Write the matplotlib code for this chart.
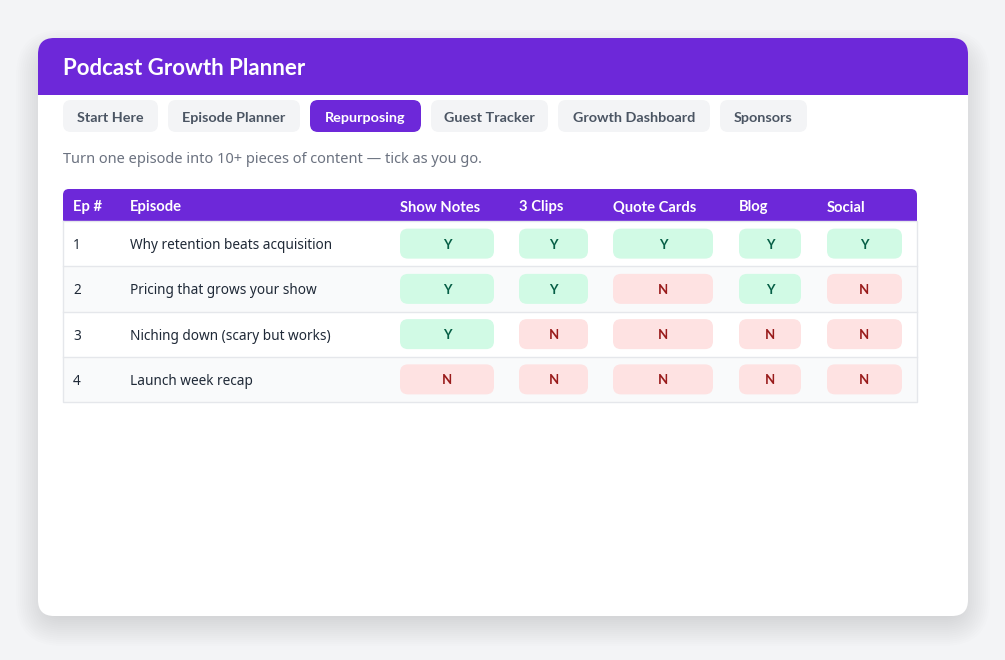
import matplotlib.pyplot as plt
from matplotlib.patches import FancyBboxPatch, Rectangle

# --- data ---
tabs = ["Start Here", "Episode Planner", "Repurposing", "Guest Tracker",
        "Growth Dashboard", "Sponsors"]
active_tab = "Repurposing"
columns = ["Show Notes", "3 Clips", "Quote Cards", "Blog", "Social"]
ep_nums = [1, 2, 3, 4]
episodes = ["Why retention beats acquisition", "Pricing that grows your show",
            "Niching down (scary but works)", "Launch week recap"]
show_notes = ["Y", "Y", "Y", "N"]
clips = ["Y", "Y", "N", "N"]
quote_cards = ["Y", "N", "N", "N"]
blog = ["Y", "Y", "N", "N"]
social = ["Y", "N", "N", "N"]

PURPLE = "#6d28d9"
BOLD = ["Lato", "DejaVu Sans"]
REG = ["Noto Sans", "DejaVu Sans"]
DY = 1.5  # small nudge so text sits on the visual centre

W, H = 1005, 660
fig = plt.figure(figsize=(W / 100, H / 100), dpi=100)
fig.patch.set_facecolor("#f3f4f6")
ax = fig.add_axes([0, 0, 1, 1])
ax.set_xlim(0, W)
ax.set_ylim(H, 0)
ax.axis("off")


def rbox(x, y, w, h, r, fc, z=1, ec="none", lw=0, alpha=1.0):
    p = FancyBboxPatch((x + r, y + r), w - 2 * r, h - 2 * r,
                       boxstyle=f"round,pad={r}", fc=fc, ec=ec, lw=lw,
                       alpha=alpha, zorder=z, mutation_aspect=1)
    ax.add_patch(p)
    return p


# card shadow (soft, mostly below the card)
for i in range(16):
    g = i * 2.0
    rbox(38 - g + 8, 38 - g + 22, 930 + 2 * g - 16, 578 + 2 * g - 22,
         16 + g, "#000000", z=0.5, alpha=0.009)

# card
rbox(38, 38, 930, 578, 16, "white", z=1)
# header band
rbox(38, 38, 930, 57, 16, PURPLE, z=2)
ax.add_patch(Rectangle((38, 70), 930, 25, fc=PURPLE, ec="none", zorder=2))
ax.text(63, 67 + DY, "Podcast Growth Planner", color="white", fontsize=16,
        fontweight="bold", family=BOLD, va="center", ha="left", zorder=3)

# tabs
tab_x = [63, 168, 310, 431, 558, 720]
tab_w = [95, 132, 111, 117, 152, 87]
for name, x, w in zip(tabs, tab_x, tab_w):
    on = name == active_tab
    rbox(x, 100, w, 32, 8, PURPLE if on else "#f3f4f6", z=2)
    ax.text(x + w / 2, 117 + DY, name, color="white" if on else "#4b5563",
            fontsize=10.4, fontweight="bold", family=BOLD,
            ha="center", va="center", zorder=3)

ax.text(63, 158 + DY, "Turn one episode into 10+ pieces of content \u2014 tick as you go.",
        color="#6b7280", fontsize=10.5, family=REG, va="center", ha="left", zorder=3)

# table
tx0, tx1 = 63, 917
rbox(tx0, 189, tx1 - tx0, 32, 6, PURPLE, z=2)
ax.add_patch(Rectangle((tx0, 205), tx1 - tx0, 16, fc=PURPLE, ec="none", zorder=2))

badge_x = [400, 519, 613, 739, 827]
badge_w = [94, 69, 100, 62, 75]
headers = ["Ep #", "Episode"] + columns
header_x = [73, 130] + badge_x
for name, x in zip(headers, header_x):
    ax.text(x, 206 + DY, name, color="white", fontsize=10.6, fontweight="bold",
            family=BOLD, va="center", ha="left", zorder=3)

flags = [show_notes, clips, quote_cards, blog, social]
row_top = 221
row_h = 45.25
for i, (num, ep) in enumerate(zip(ep_nums, episodes)):
    y0 = row_top + i * row_h
    ax.add_patch(Rectangle((tx0, y0), tx1 - tx0, row_h,
                           fc="white" if i % 2 == 0 else "#f9fafb",
                           ec="none", zorder=2))
    if i > 0:
        ax.plot([tx0, tx1], [y0, y0], color="#e5e7eb", lw=1, zorder=2.5)
    yc = y0 + row_h / 2
    ax.text(73, yc + DY + 0.5, str(num), color="#1f2937", fontsize=9.8, family=REG,
            va="center", ha="left", zorder=3)
    ax.text(130, yc + DY + 0.5, ep, color="#1f2937", fontsize=9.8, family=REG,
            va="center", ha="left", zorder=3)
    for col, x, w in zip(flags, badge_x, badge_w):
        v = col[i]
        yes = v == "Y"
        rbox(x, yc - 15, w, 30, 8, "#d1fae5" if yes else "#fee2e2", z=3)
        ax.text(x + w / 2, yc + 1, v, color="#065f46" if yes else "#991b1b",
                fontsize=9.5, fontweight="bold", family=BOLD,
                ha="center", va="center", zorder=4)

bottom = row_top + len(episodes) * row_h
ax.plot([tx0, tx0, tx1, tx1, tx0], [row_top, bottom, bottom, row_top, row_top],
        color="#e5e7eb", lw=1, zorder=2.6)

fig.savefig("out.png", dpi=100, facecolor=fig.get_facecolor())
